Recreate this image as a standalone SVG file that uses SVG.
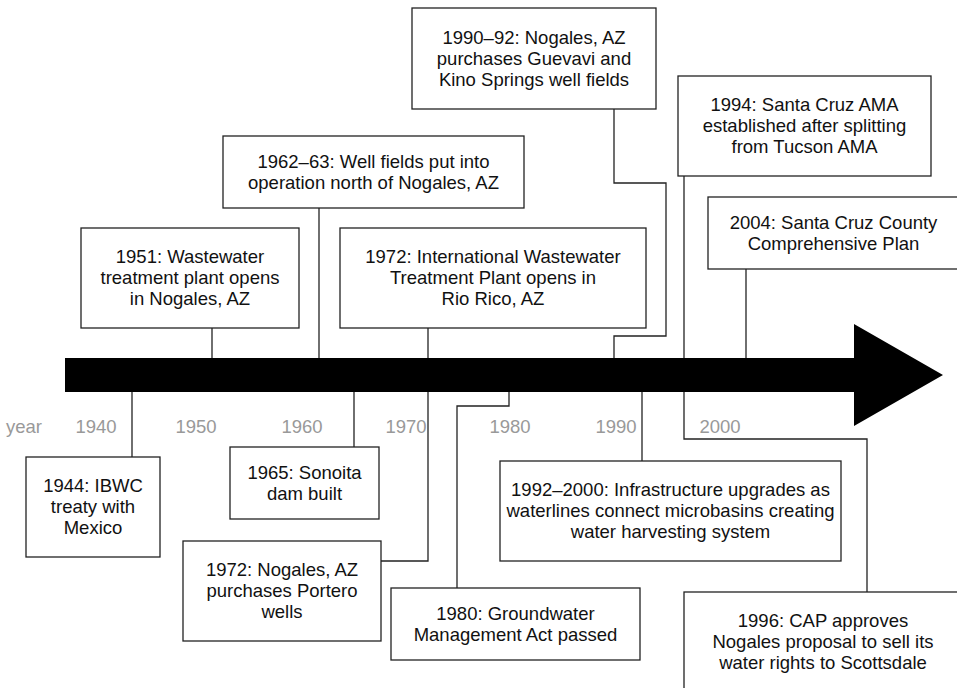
<svg xmlns="http://www.w3.org/2000/svg" width="957" height="688" viewBox="0 0 957 688">
  <style>
    .box rect { fill: #fff; stroke: #222; stroke-width: 1.3; }
    .box text { font-family: "Liberation Sans", Arial, sans-serif; font-size: 18.5px; fill: #111; text-anchor: middle; }
    .yr { font-family: "Liberation Sans", Arial, sans-serif; font-size: 18.5px; fill: #999; text-anchor: middle; }
    #connectors path { fill: none; stroke: #222; stroke-width: 1.3; }
  </style>
  <rect width="957" height="688" fill="#fff"/>

  <!-- timeline arrow -->
  <polygon id="timeline" points="65,358 854,358 854,324 943,375 854,426 854,392 65,392" fill="#000"/>

  <!-- decade scale -->
  <g id="scale">
    <text class="yr" x="24" y="433">year</text>
    <text class="yr" x="96" y="433">1940</text>
    <text class="yr" x="196" y="433">1950</text>
    <text class="yr" x="302" y="433">1960</text>
    <text class="yr" x="406" y="433">1970</text>
    <text class="yr" x="510" y="433">1980</text>
    <text class="yr" x="616" y="433">1990</text>
    <text class="yr" x="720" y="433">2000</text>
  </g>

  <!-- leader lines from events to the timeline -->
  <g id="connectors">
    <path d="M212 328 V358"/>
    <path d="M319 208 V358"/>
    <path d="M428 328 V358"/>
    <path d="M614 109 V183 H666 V336 H614 V358"/>
    <path d="M684 176 V358"/>
    <path d="M746 269 V358"/>
    <path d="M132 392 V457"/>
    <path d="M354 392 V447"/>
    <path d="M428 392 V561 H381"/>
    <path d="M509 392 V406 H457 V588"/>
    <path d="M642 392 V461"/>
    <path d="M684 392 V439 H867 V592"/>
  </g>

  <!-- events above the timeline -->
  <g id="e1990" class="box">
    <rect x="412" y="8" width="244" height="101"/>
    <text x="534" y="43.5">1990–92: Nogales, AZ</text>
    <text x="534" y="64.5">purchases Guevavi and</text>
    <text x="534" y="85.5">Kino Springs well fields</text>
  </g>
  <g id="e1994" class="box">
    <rect x="678" y="76" width="253" height="100"/>
    <text x="804.5" y="111">1994: Santa Cruz AMA</text>
    <text x="804.5" y="132">established after splitting</text>
    <text x="804.5" y="153">from Tucson AMA</text>
  </g>
  <g id="e1962" class="box">
    <rect x="223" y="136" width="301" height="72"/>
    <text x="373.5" y="167.5">1962–63: Well fields put into</text>
    <text x="373.5" y="188.5">operation north of Nogales, AZ</text>
  </g>
  <g id="e2004" class="box">
    <rect x="708" y="197" width="251" height="72"/>
    <text x="833.5" y="228.5">2004: Santa Cruz County</text>
    <text x="833.5" y="249.5">Comprehensive Plan</text>
  </g>
  <g id="e1951" class="box">
    <rect x="81" y="228" width="218" height="100"/>
    <text x="190" y="263">1951: Wastewater</text>
    <text x="190" y="284">treatment plant opens</text>
    <text x="190" y="305">in Nogales, AZ</text>
  </g>
  <g id="e1972a" class="box">
    <rect x="340" y="228" width="306" height="100"/>
    <text x="493" y="263">1972: International Wastewater</text>
    <text x="493" y="284">Treatment Plant opens in</text>
    <text x="493" y="305">Rio Rico, AZ</text>
  </g>

  <!-- events below the timeline -->
  <g id="e1944" class="box">
    <rect x="26" y="457" width="134" height="100"/>
    <text x="93" y="492">1944: IBWC</text>
    <text x="93" y="513">treaty with</text>
    <text x="93" y="534">Mexico</text>
  </g>
  <g id="e1965" class="box">
    <rect x="230" y="447" width="149" height="72"/>
    <text x="304.5" y="478.5">1965: Sonoita</text>
    <text x="304.5" y="499.5">dam built</text>
  </g>
  <g id="e1972b" class="box">
    <rect x="183" y="541" width="198" height="100"/>
    <text x="282" y="576">1972: Nogales, AZ</text>
    <text x="282" y="597">purchases Portero</text>
    <text x="282" y="618">wells</text>
  </g>
  <g id="e1980" class="box">
    <rect x="391" y="588" width="249" height="72"/>
    <text x="515.5" y="619.5">1980: Groundwater</text>
    <text x="515.5" y="640.5">Management Act passed</text>
  </g>
  <g id="e1992" class="box">
    <rect x="500" y="461" width="341" height="100"/>
    <text x="670.5" y="496">1992–2000: Infrastructure upgrades as</text>
    <text x="670.5" y="517">waterlines connect microbasins creating</text>
    <text x="670.5" y="538">water harvesting system</text>
  </g>
  <g id="e1996" class="box">
    <rect x="684" y="592" width="278" height="100"/>
    <text x="823" y="627">1996: CAP approves</text>
    <text x="823" y="648">Nogales proposal to sell its</text>
    <text x="823" y="669">water rights to Scottsdale</text>
  </g>
</svg>
